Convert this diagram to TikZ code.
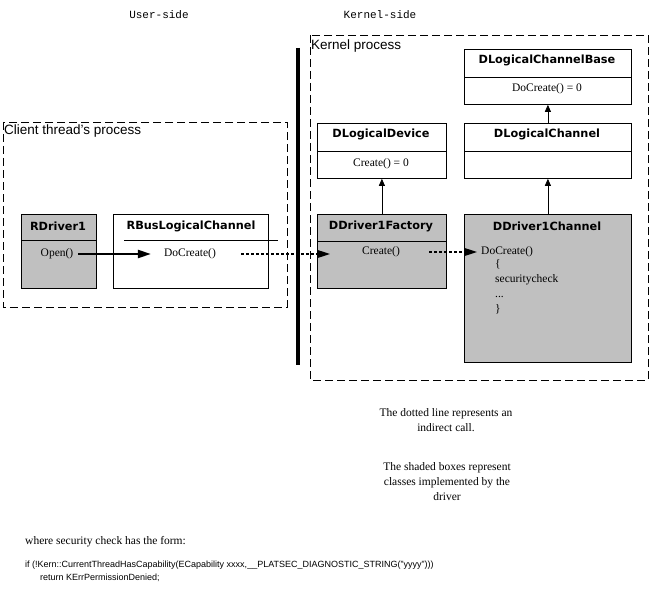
\documentclass[tikz,border=0pt]{standalone}
\usepackage{fontspec}
\setmainfont{Liberation Serif}
\setsansfont{Liberation Sans}
\setmonofont{Liberation Mono}
\newfontfamily\hdrfont{DejaVu Sans}
\usetikzlibrary{arrows.meta}
\definecolor{shade}{HTML}{C0C0C0}
\begin{document}
\begin{tikzpicture}[x=1pt,y=-1pt,
  box/.style={draw=black,line width=0.8pt,anchor=north west,inner sep=0pt},
  procbox/.style={draw=black,line width=0.8pt,dash pattern=on 8pt off 4pt},
  hdr/.style={font=\hdrfont\bfseries\fontsize{11.3}{13}\selectfont,inner sep=0pt},
  body/.style={font=\fontsize{11.5}{13}\selectfont,inner sep=0pt},
  lbl/.style={font=\sffamily\fontsize{13.5}{15}\selectfont,inner sep=0pt,anchor=west},
  side/.style={font=\ttfamily\fontsize{11}{13}\selectfont,inner sep=0pt},
  note/.style={font=\fontsize{11.5}{15}\selectfont,inner sep=0pt,align=center},
  callarrow/.style={line width=2pt,-{Triangle[length=13pt,width=8pt]}},
  indirect/.style={line width=1.6pt,dash pattern=on 3pt off 2pt,-{Triangle[length=13pt,width=8pt]}},
  inherit/.style={line width=0.8pt,-{Triangle[length=7pt,width=6pt]}},
  divider/.style={line width=0.8pt}]
\useasboundingbox (0,0) rectangle (652,604);
% side labels
\node[side] (user) at (159,15) {User-side};
\node[side] (kern) at (380,15) {Kernel-side};
% boundary
\draw[line width=4pt] (298,48) coordinate (btop) -- (298,365) coordinate (bbot);
% process boxes
\draw[procbox] (3,122) rectangle (287,307);
\node[lbl] (clientlbl) at (4,131) {Client thread's process};
\draw[procbox] (310,35) rectangle (648,380);
\node[lbl] (kernlbl) at (311,46) {Kernel process};
% boxes
\node[box,fill=shade,minimum width=75pt,minimum height=74pt] (rdrv) at (21,214) {};
\draw[divider] (21,240) -- (96,240);
\node[hdr] (rdrvh) at (58,226) {RDriver1};
\node[body] (open) at (57,254) {Open()};

\node[box,fill=white,minimum width=155pt,minimum height=74pt] (rbus) at (113,214) {};
\draw[divider] (124,240) -- (278,240);
\node[hdr] (rbush) at (191,226) {RBusLogicalChannel};
\node[body] (dc1) at (190,254) {DoCreate()};

\node[box,fill=white,minimum width=167pt,minimum height=55pt] (dlcb) at (464,49) {};
\draw[divider] (464,77) -- (631,77);
\node[hdr] (dlcbh) at (547,60) {DLogicalChannelBase};
\node[body] (dcz) at (547,89) {DoCreate() = 0};

\node[box,fill=white,minimum width=129pt,minimum height=55pt] (dld) at (317,123) {};
\draw[divider] (317,151) -- (446,151);
\node[hdr] (dldh) at (381,134) {DLogicalDevice};
\node[body] (crz) at (381,164) {Create() = 0};

\node[box,fill=white,minimum width=167pt,minimum height=55pt] (dlc) at (464,123) {};
\draw[divider] (464,151) -- (631,151);
\node[hdr] (dlch) at (547,134) {DLogicalChannel};

\node[box,fill=shade,minimum width=129pt,minimum height=74pt] (ddf) at (317,214) {};
\draw[divider] (317,241) -- (446,241);
\node[hdr] (ddfh) at (381,226) {DDriver1Factory};
\node[body] (create) at (381,252) {Create()};

\node[box,fill=shade,minimum width=167pt,minimum height=148pt] (ddc) at (464,214) {};
\node[hdr] (ddch) at (547,226) {DDriver1Channel};
\node[body,anchor=west] (dc2) at (481,252) {DoCreate()};
\node[body,anchor=north west,align=left,font=\fontsize{11.5}{15}\selectfont] (dc2body) at (495,259) {\{\\securitycheck\\...\\\}};

% connectors
\draw[callarrow,shorten <=5pt,shorten >=13pt] (open.east) -- (open.east -| dc1.west);
\draw[indirect,shorten <=25pt] (dc1.east) -- ([xshift=13pt]ddf.west |- dc1.east);
\draw[indirect,shorten <=29pt,shorten >=4pt] (create.east) -- (create.east -| dc2.west);
\draw[inherit] (ddf.north) -- (dld.south);
\draw[inherit] (ddc.north) -- (dlc.south);
\draw[inherit] (dlc.north) -- (dlcb.south);

% notes
\node[note] (note1) at (446,420) {The dotted line represents an\\indirect call.};
\node[note] (note2) at (447,482) {The shaded boxes represent\\classes implemented by the\\driver};
\node[body,anchor=west] (where) at (25,542) {where security check has the form:};
\node[inner sep=0pt,anchor=north west,align=left,font=\sffamily\fontsize{9}{13}\selectfont] (code) at (25,561) {if (!Kern::CurrentThreadHasCapability(ECapability xxxx,\_\_PLATSEC\_DIAGNOSTIC\_STRING("yyyy")))\\\hspace*{15pt}return KErrPermissionDenied;};
\end{tikzpicture}
\end{document}
